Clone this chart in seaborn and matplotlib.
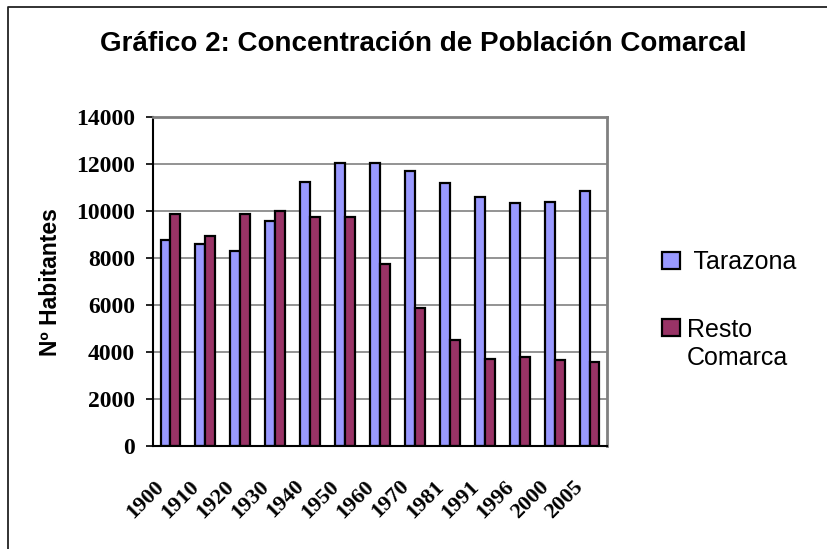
import numpy as np
import pandas as pd
import matplotlib
matplotlib.use("Agg")
import matplotlib.pyplot as plt
import matplotlib.transforms as mtransforms
import seaborn as sns
from matplotlib.patches import Patch, Rectangle
from matplotlib.lines import Line2D
from matplotlib.legend_handler import HandlerPatch
from matplotlib.font_manager import FontProperties
from matplotlib.ticker import FixedLocator, MultipleLocator

# ==========================================
# Data
# ==========================================
years = ["1900", "1910", "1920", "1930", "1940", "1950", "1960",
         "1970", "1981", "1991", "1996", "2000", "2005"]
tarazona = [8770, 8590, 8300, 9590, 11220, 12030, 12030,
            11710, 11180, 10610, 10360, 10400, 10850]
resto_comarca = [9880, 8940, 9860, 10000, 9730, 9760, 7730,
                 5890, 4500, 3720, 3800, 3660, 3590]
series_names = ["Tarazona", "Resto Comarca"]
legend_labels = [" Tarazona", "Resto\nComarca"]
colors = ["#9999FF", "#993366"]

df = pd.DataFrame({
    "Año": years * 2,
    "Habitantes": tarazona + resto_comarca,
    "Serie": [series_names[0]] * len(years) + [series_names[1]] * len(years),
})

# ==========================================
# Figure
# ==========================================
sns.set_style("white")
plt.rcParams["font.family"] = ["Liberation Sans", "DejaVu Sans"]
plt.rcParams.update({"text.color": "black", "xtick.color": "black",
                     "ytick.color": "black", "axes.labelcolor": "black"})

fig = plt.figure(figsize=(8.28, 5.49), dpi=100)
ax = fig.add_axes([153 / 828, 1 - 446 / 549, (607 - 153) / 828, (446 - 117) / 549])

sns.barplot(data=df, x="Año", y="Habitantes", hue="Serie", palette=colors,
            width=0.57, edgecolor="black", linewidth=1.6, saturation=1,
            legend=False, ax=ax)

ax.set_xlim(-0.5, len(years) - 0.5)
ax.set_ylim(0, 14000)
ax.yaxis.set_major_locator(MultipleLocator(2000))
ax.set_xlabel("")
ax.set_ylabel("")

# gridlines + frame
ax.set_axisbelow(True)
ax.yaxis.grid(True, color="#808080", linewidth=1.2)
for side in ["left", "bottom"]:
    ax.spines[side].set_color("black")
    ax.spines[side].set_linewidth(1.5)
for side in ["top", "right"]:
    ax.spines[side].set_visible(True)
    ax.spines[side].set_color("#808080")
    ax.spines[side].set_linewidth(2)

# ticks
ytick_font = FontProperties(family="Liberation Serif", weight="bold", size=17)
xtick_font = FontProperties(family="Liberation Serif", weight="bold", size=16)
ax.xaxis.set_minor_locator(FixedLocator(np.arange(-0.5, len(years), 1.0)))
ax.tick_params(axis="x", which="major", length=0, pad=27)
ax.tick_params(axis="x", which="minor", length=5, width=1.2, color="black", direction="out")
ax.tick_params(axis="y", length=5, width=1.2, color="black", direction="out", pad=8, left=True)
ax.set_xticks(range(len(years)))
ax.set_xticklabels(years, rotation=45, ha="right", va="center",
                   rotation_mode="anchor", fontproperties=xtick_font, color="black")
shift = mtransforms.ScaledTranslation(-9 / 100, 0, fig.dpi_scale_trans)
for lab in ax.get_xticklabels():
    lab.set_transform(lab.get_transform() + shift)
for lab in ax.get_yticklabels():
    lab.set_fontproperties(ytick_font)
    lab.set_color("black")

# title and axis label
fig.text(423 / 828, 1 - 51 / 549, "Gráfico 2: Concentración de Población Comarcal",
         ha="center", va="baseline", fontsize=20, weight="bold", color="black")
fig.text(51 / 828, 1 - 282 / 549, "Nº Habitantes", rotation=90,
         ha="center", va="center", fontsize=16.5, weight="bold", color="black")


# legend: square of the two-line entry sits beside the first line
def square_patch(dy):
    def make(legend, orig_handle, xdescent, ydescent, width, height, fontsize):
        return Rectangle((-xdescent, -ydescent + dy), width, height)
    return HandlerPatch(patch_func=make)


handles = [Patch(facecolor=c, edgecolor="black", linewidth=1.6) for c in colors]
fig.legend(handles, legend_labels, loc="upper left",
           bbox_to_anchor=(652 / 828, 1 - 240 / 549), frameon=False,
           fontsize=18, handlelength=0.7, handleheight=0.7,
           handletextpad=0.3, labelspacing=1.75, borderaxespad=0,
           handler_map={handles[0]: square_patch(0), handles[1]: square_patch(12)})

# outer chart border (left and top edges visible)
fig.add_artist(Line2D([8 / 828, 8 / 828, 1.0], [0.0, 1 - 7 / 549, 1 - 7 / 549],
                      transform=fig.transFigure, color="#222222", linewidth=1.3))

fig.savefig("out.png", dpi=100)
